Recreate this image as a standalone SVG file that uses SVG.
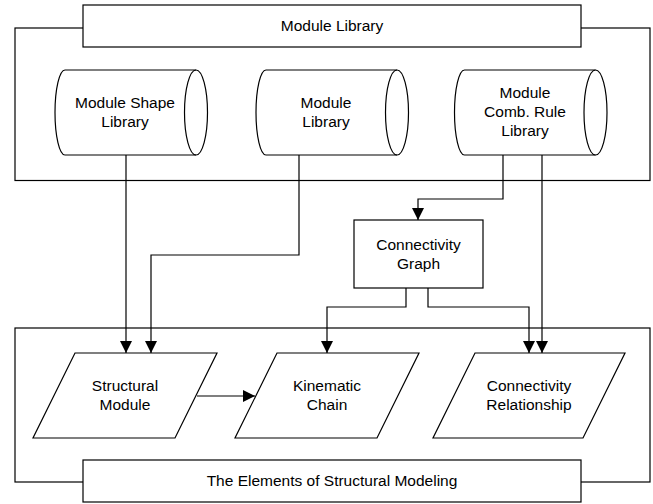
<svg xmlns="http://www.w3.org/2000/svg" width="653" height="504" viewBox="0 0 653 504">
<style>
.s{fill:#fff;stroke:#000;stroke-width:1.2}
.f{fill:none;stroke:#000;stroke-width:1.2}
.c{fill:none;stroke:#000;stroke-width:1.2}
text{font-family:"Liberation Sans",Arial,sans-serif;font-size:15.5px;fill:#000;text-anchor:middle}
</style>
<defs>
<marker id="ah" markerUnits="userSpaceOnUse" markerWidth="12" markerHeight="12" refX="12" refY="6" orient="auto">
<path d="M0,0 L12,6 L0,12 Z" fill="#000"/>
</marker>
</defs>
<g id="frame-top">
<rect class="f" x="15" y="28" width="635" height="152.5"/>
</g>
<g id="frame-bottom">
<rect class="f" x="15" y="328" width="635" height="154"/>
</g>
<g id="label-module-library">
<rect class="s" x="83" y="5" width="498" height="42"/>
<text x="332" y="31">Module Library</text>
</g>
<g id="module-shape-library">
<path class="s" d="M65,70 L196,70 A11.5,42.5 0 0 1 196,155 L65,155 A10,42.5 0 0 1 65,70 Z"/>
<path class="f" d="M196,70 A11.5,42.5 0 0 0 196,155"/>
<text x="125" y="108">Module Shape</text>
<text x="125" y="127">Library</text>
</g>
<g id="module-library">
<path class="s" d="M266,70 L397,70 A11.5,42.5 0 0 1 397,155 L266,155 A10,42.5 0 0 1 266,70 Z"/>
<path class="f" d="M397,70 A11.5,42.5 0 0 0 397,155"/>
<text x="326" y="108">Module</text>
<text x="326" y="127">Library</text>
</g>
<g id="module-comb-rule-library">
<path class="s" d="M464.5,70 L595.5,70 A11.5,42.5 0 0 1 595.5,155 L464.5,155 A10,42.5 0 0 1 464.5,70 Z"/>
<path class="f" d="M595.5,70 A11.5,42.5 0 0 0 595.5,155"/>
<text x="525" y="98">Module</text>
<text x="525" y="117">Comb. Rule</text>
<text x="525" y="136">Library</text>
</g>
<g id="connectivity-graph">
<rect class="s" x="354" y="220" width="129" height="68"/>
<text x="418.5" y="250">Connectivity</text>
<text x="418.5" y="269">Graph</text>
</g>
<g id="structural-module">
<polygon class="s" points="75,353 217,353 175,438 33,438"/>
<text x="125" y="391">Structural</text>
<text x="125" y="410">Module</text>
</g>
<g id="kinematic-chain">
<polygon class="s" points="277,353 419,353 377,438 235,438"/>
<text x="327" y="391">Kinematic</text>
<text x="327" y="410">Chain</text>
</g>
<g id="connectivity-relationship">
<polygon class="s" points="475,353 625,353 583,438 433,438"/>
<text x="529" y="391">Connectivity</text>
<text x="529" y="410">Relationship</text>
</g>
<g id="label-elements">
<rect class="s" x="83" y="460" width="498" height="42"/>
<text x="332" y="486">The Elements of Structural Modeling</text>
</g>
<g id="connectors">
<path class="c" d="M126,155 V353" marker-end="url(#ah)"/>
<path class="c" d="M299,155 V255 H151 V353" marker-end="url(#ah)"/>
<path class="c" d="M503,155 V199 H418 V220" marker-end="url(#ah)"/>
<path class="c" d="M542,155 V353" marker-end="url(#ah)"/>
<path class="c" d="M406,288 V307 H327 V353" marker-end="url(#ah)"/>
<path class="c" d="M428,288 V307 H529 V353" marker-end="url(#ah)"/>
<path class="c" d="M197,396 H255" marker-end="url(#ah)"/>
</g>
</svg>
